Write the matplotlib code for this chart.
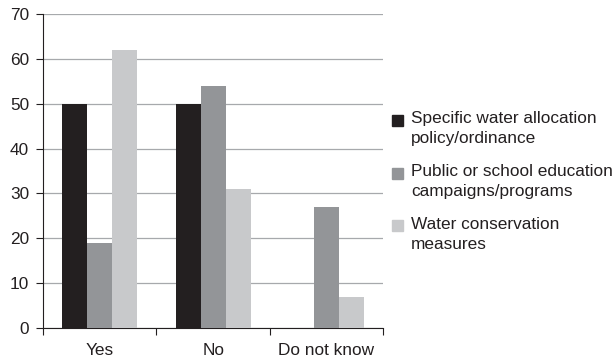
import matplotlib.pyplot as plt
import numpy as np
from matplotlib.patches import Rectangle

plt.rcParams["font.family"] = ["Liberation Sans", "DejaVu Sans"]

categories = ["Yes", "No", "Do not know"]
series_names = [
    "Specific water allocation\npolicy/ordinance",
    "Public or school education\ncampaigns/programs",
    "Water conservation\nmeasures",
]
allocation_policy = [50, 50, 0]
education_campaigns = [19, 54, 27]
conservation_measures = [62, 31, 7]
colors = ["#231f20", "#939598", "#c8c9cb"]

W, H = 616, 362


def draw_legend(fig):
    # square sits level with the first line of each two-line label
    for i, (name, color) in enumerate(zip(series_names, colors)):
        y = 120 + 53 * i
        fig.patches.append(Rectangle((392 / W, 1 - (y + 5.5) / H), 11 / W, 11 / H,
                                     transform=fig.transFigure, color=color))
        fig.text(411 / W, 1 - (y - 9) / H, name, fontsize=12.4, va="top",
                 ha="left", linespacing=1.45, color="#231f20")


def main():
    fig = plt.figure(figsize=(W / 100, H / 100), dpi=100)
    ax = fig.add_axes([0.07, 0.094, 0.552, 0.867])

    values = [allocation_policy, education_campaigns, conservation_measures]
    x = np.arange(len(categories))
    width = 0.22
    for i, (vals, color) in enumerate(zip(values, colors)):
        ax.bar(x + (i - 1) * width, vals, width, color=color, zorder=3)

    ax.set_xlim(-0.5, len(categories) - 0.5)
    ax.set_ylim(0, 70)
    ax.set_yticks(range(0, 71, 10))
    ax.yaxis.grid(True, color="#a7a9ac", linewidth=0.9, zorder=0)

    # category boundaries get tick marks, labels sit centred between them
    ax.set_xticks(np.arange(len(categories) + 1) - 0.5)
    ax.set_xticklabels([])
    ax.set_xticks(x, minor=True)
    ax.set_xticklabels(categories, minor=True)
    ax.tick_params(axis="x", which="major", length=5, color="#231f20")
    ax.tick_params(axis="x", which="minor", length=0, pad=11, labelsize=12.4,
                   labelcolor="#231f20")
    ax.tick_params(axis="y", length=5, color="#231f20", labelsize=12.4,
                   labelcolor="#231f20", pad=5)

    for side in ("top", "right"):
        ax.spines[side].set_visible(False)
    for side in ("left", "bottom"):
        ax.spines[side].set_color("#231f20")

    draw_legend(fig)
    fig.savefig("out.png", dpi=100)


if __name__ == "__main__":
    main()
